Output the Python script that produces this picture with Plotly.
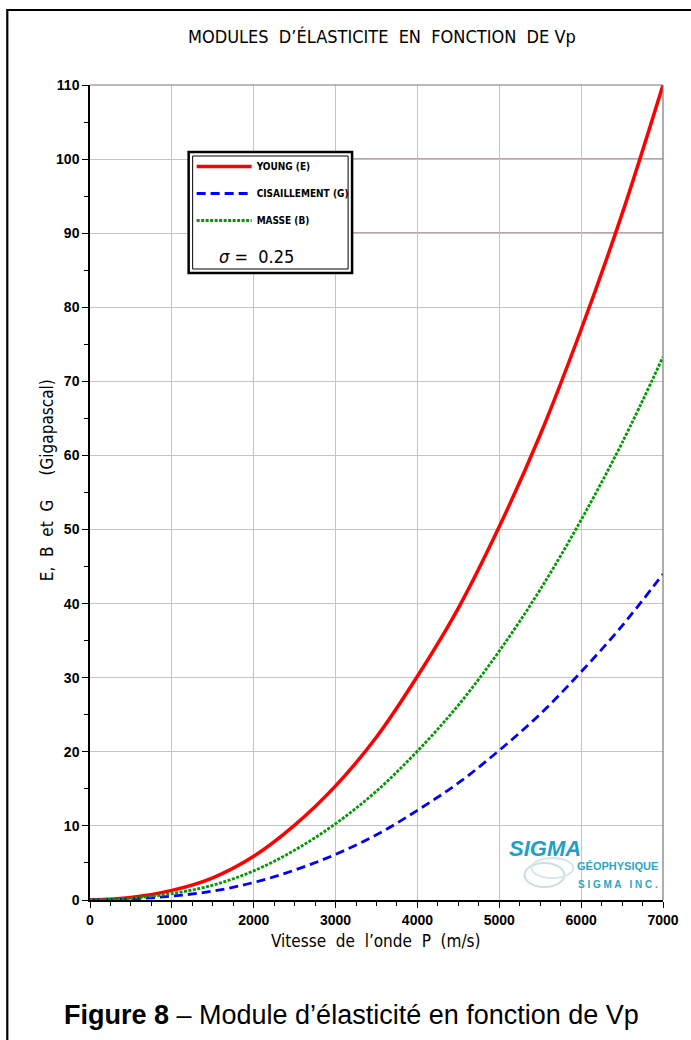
import plotly.graph_objects as go

# ---- data ----
vitesse = [0, 500, 1000, 1500, 2000, 2500, 3000, 3500, 4000, 4500, 5000, 5500, 6000, 6500, 7000]
young = [0, 0.35, 1.3, 3.0, 5.9, 10.1, 15.4, 22.0, 30.2, 39.4, 50.4, 62.8, 77.0, 92.6, 110.0]
cisaillement = [0, 0.14, 0.52, 1.2, 2.36, 4.04, 6.16, 8.8, 12.1, 15.8, 20.2, 25.1, 30.8, 37.0, 44.0]
masse = [0, 0.23, 0.87, 2.0, 3.93, 6.73, 10.3, 14.7, 20.1, 26.3, 33.6, 41.9, 51.3, 61.7, 73.3]
x_ticks = [0, 1000, 2000, 3000, 4000, 5000, 6000, 7000]
y_ticks = [0, 10, 20, 30, 40, 50, 60, 70, 80, 90, 100, 110]
series_names = ["<b>YOUNG (E)</b>", "<b>CISAILLEMENT (G)</b>", "<b>MASSE (B)</b>"]

W, H = 691, 1040
L, R, T, B = 90, 26, 85, 140
PW, PH = W - L - R, H - T - B


def px(xp):
    return (xp - L) / PW


def py(yp):
    return (H - B - yp) / PH


CAD = "Liberation Sans Narrow, DejaVu Sans Condensed, Arial Narrow, sans-serif"
ARIAL = "Liberation Sans, Arial, sans-serif"

fig = go.Figure()
fig.add_trace(go.Scatter(x=vitesse, y=young, mode="lines", name=series_names[0],
                         line=dict(color="#ff0000", width=3.5, shape="spline"), legendgroup="a"))
fig.add_trace(go.Scatter(x=vitesse, y=cisaillement, mode="lines", name=series_names[1],
                         line=dict(color="#0000ff", width=2.8, dash="9px,5px", shape="spline"), legendgroup="b"))
fig.add_trace(go.Scatter(x=vitesse, y=masse, mode="lines", name=series_names[2],
                         line=dict(color="#009900", width=2.8, dash="3px,1.5px", shape="spline"), legendgroup="c"))

shapes = []
# outer frame
shapes.append(dict(type="rect", xref="paper", yref="paper", x0=px(7), x1=px(720), y0=py(10), y1=py(1080),
                   line=dict(color="black", width=2.2), fillcolor="rgba(0,0,0,0)", layer="above"))
# top and right plot borders (gray)
shapes.append(dict(type="line", xref="paper", yref="paper", x0=0, x1=1, y0=1, y1=1,
                   line=dict(color="#777777", width=1.2), layer="above"))
shapes.append(dict(type="line", xref="paper", yref="paper", x0=1, x1=1, y0=0, y1=1,
                   line=dict(color="#777777", width=1.2), layer="above"))
# darker grid lines at 90 and 100 right of the legend
for yv in (90, 100):
    shapes.append(dict(type="line", xref="paper", yref="y", x0=px(353), x1=1, y0=yv, y1=yv,
                       line=dict(color="#6a4a4a", width=1.2), layer="between"))
# legend box (double border)
shapes.append(dict(type="rect", xref="paper", yref="paper", x0=px(189), x1=px(353), y0=py(152), y1=py(273),
                   line=dict(color="black", width=2.5), fillcolor="white", layer="above"))
shapes.append(dict(type="rect", xref="paper", yref="paper", x0=px(193), x1=px(349), y0=py(156), y1=py(269),
                   line=dict(color="black", width=1), fillcolor="rgba(0,0,0,0)", layer="above"))
# logo backdrop
shapes.append(dict(type="rect", xref="paper", yref="paper", x0=px(506), x1=px(663), y0=py(829), y1=py(889),
                   line=dict(width=0), fillcolor="white", layer="between"))
shapes.append(dict(type="circle", xref="paper", yref="paper", x0=px(526), x1=px(566), y0=py(863), y1=py(887),
                   line=dict(color="#c9dde2", width=2), fillcolor="rgba(0,0,0,0)", layer="between"))
shapes.append(dict(type="circle", xref="paper", yref="paper", x0=px(533), x1=px(575), y0=py(858), y1=py(878),
                   line=dict(color="#d6e6ea", width=2), fillcolor="rgba(0,0,0,0)", layer="between"))

annotations = [
    dict(text="MODULES  D’ÉLASTICITE  EN  FONCTION  DE Vp", x=px(383), y=py(37), xref="paper", yref="paper",
         showarrow=False, font=dict(family=CAD, size=18, color="black"), xanchor="center", yanchor="middle"),
    dict(text="Vitesse  de  l’onde  P  (m/s)", x=px(377), y=py(941), xref="paper", yref="paper",
         showarrow=False, font=dict(family=CAD, size=17, color="black"), xanchor="center", yanchor="middle"),
    dict(text="E,  B  et  G     (Gigapascal)", x=px(47), y=py(480), xref="paper", yref="paper", textangle=-90,
         showarrow=False, font=dict(family=CAD, size=17, color="black"), xanchor="center", yanchor="middle"),
    dict(text="<i>σ</i> =  0.25", x=px(217), y=py(256), xref="paper", yref="paper",
         showarrow=False, font=dict(family=CAD, size=18, color="black"), xanchor="left", yanchor="middle"),
    dict(text="<b>Figure 8</b> – Module d’élasticité en fonction de Vp", x=px(352), y=py(1015),
         xref="paper", yref="paper", showarrow=False, font=dict(family=ARIAL, size=27, color="black"),
         xanchor="center", yanchor="middle"),
    dict(text="<b><i>SIGMA</i></b>", x=px(508), y=py(848), xref="paper", yref="paper", showarrow=False,
         font=dict(family=ARIAL, size=22, color="#1e9fc8"), xanchor="left", yanchor="middle"),
    dict(text="<b>GÉOPHYSIQUE</b>", x=px(662), y=py(866), xref="paper", yref="paper", showarrow=False,
         font=dict(family=ARIAL, size=11, color="#2aa5c8"), xanchor="right", yanchor="middle"),
    dict(text="<b>S I G M A   I N C .</b>", x=px(662), y=py(884), xref="paper", yref="paper", showarrow=False,
         font=dict(family=ARIAL, size=10, color="#2aa5c8"), xanchor="right", yanchor="middle"),
]

fig.update_layout(
    width=W, height=H, autosize=False,
    margin=dict(l=L, r=R, t=T, b=B, pad=0),
    paper_bgcolor="white", plot_bgcolor="white",
    shapes=shapes, annotations=annotations,
    showlegend=True,
    legend=dict(x=px(192), y=py(152), xanchor="left", yanchor="top", bgcolor="rgba(0,0,0,0)",
                borderwidth=0, font=dict(family=CAD, size=10, color="black"), tracegroupgap=8,
                itemwidth=55),
    xaxis=dict(range=[0, 7000], tickvals=x_ticks, ticktext=[str(v) for v in x_ticks],
               showgrid=True, gridcolor="#c4c4c4", gridwidth=1, zeroline=False,
               showline=True, linecolor="black", linewidth=1.5,
               ticks="outside", ticklen=6, tickcolor="black", tickwidth=1,
               minor=dict(dtick=250, ticks="outside", ticklen=4, tickcolor="black", showgrid=False),
               tickfont=dict(family=ARIAL, size=14, color="black", weight="bold")),
    yaxis=dict(range=[0, 110], tickvals=y_ticks, ticktext=[str(v) for v in y_ticks],
               showgrid=True, gridcolor="#c4c4c4", gridwidth=1, zeroline=False,
               showline=True, linecolor="black", linewidth=1.5,
               ticks="outside", ticklen=6, tickcolor="black", tickwidth=1,
               minor=dict(dtick=5, ticks="outside", ticklen=4, tickcolor="black", showgrid=False),
               tickfont=dict(family=ARIAL, size=14, color="black", weight="bold")),
)

fig.write_html("out.html", config={"displayModeBar": False},
               post_script="document.body.style.margin='0px';")
